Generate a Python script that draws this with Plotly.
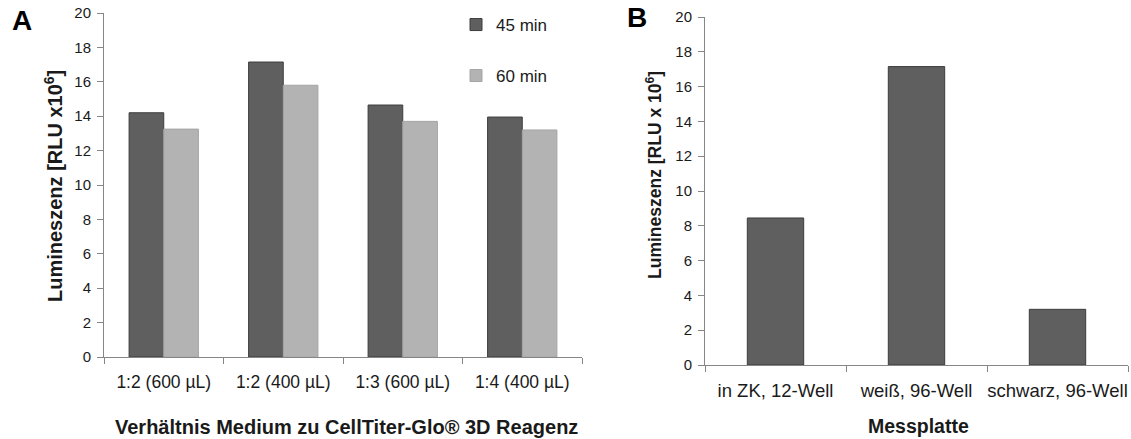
import plotly.graph_objects as go

# Panel A data
cats_a = ["1:2 (600 µL)", "1:2 (400 µL)", "1:3 (600 µL)", "1:4 (400 µL)"]
vals_45 = [14.2, 17.15, 14.65, 13.95]
vals_60 = [13.25, 15.8, 13.7, 13.2]
series_names = ["45 min", "60 min"]

# Panel B data
cats_b = ["in ZK, 12-Well", "weiß, 96-Well", "schwarz, 96-Well"]
vals_b = [8.45, 17.15, 3.2]

y_ticks = [0, 2, 4, 6, 8, 10, 12, 14, 16, 18, 20]

W, H = 1131, 439
FONT = "Liberation Sans, Arial, sans-serif"
DARK = "#5f5f5f"
LIGHT = "#b3b3b3"
AXIS = "#868686"
TXT = "#1a1a1a"

fig = go.Figure()
fig.add_trace(go.Bar(x=cats_a, y=vals_45, name=series_names[0], xaxis="x", yaxis="y",
                     marker=dict(color=DARK, line=dict(color="#3c3c3c", width=1)),
                     legend="legend"))
fig.add_trace(go.Bar(x=cats_a, y=vals_60, name=series_names[1], xaxis="x", yaxis="y",
                     marker=dict(color=LIGHT, line=dict(color="#a5a5a5", width=1)),
                     legend="legend2"))
fig.add_trace(go.Bar(x=cats_b, y=vals_b, name="B", xaxis="x2", yaxis="y2", showlegend=False,
                     width=0.4,
                     marker=dict(color=DARK, line=dict(color="#3c3c3c", width=1))))

def px_x(p):
    return p / W

def px_y(p):
    return 1 - p / H

common_y = dict(range=[0, 20], tickvals=y_ticks, showline=True, linecolor=AXIS, linewidth=1,
                ticks="outside", ticklen=6, tickcolor=AXIS, showgrid=False, zeroline=False,
                tickfont=dict(family=FONT, size=15, color=TXT), ticklabelstandoff=3,
                fixedrange=True, automargin=False)
common_x = dict(showline=True, linecolor=AXIS, linewidth=1, ticks="outside", ticklen=6,
                tickcolor=AXIS, tickson="boundaries", showgrid=False, zeroline=False,
                fixedrange=True, automargin=False, tickangle=0, ticklabelstandoff=9)

fig.update_layout(
    width=W, height=H,
    margin=dict(l=0, r=0, t=0, b=0, autoexpand=False),
    paper_bgcolor="white", plot_bgcolor="white",
    barmode="group",
    showlegend=True,
    xaxis=dict(domain=[px_x(104), px_x(582)], anchor="y",
               tickfont=dict(family=FONT, size=17.5, color=TXT), **common_x),
    yaxis=dict(domain=[px_y(357), px_y(13)], anchor="x", **common_y),
    xaxis2=dict(domain=[px_x(705), px_x(1128)], anchor="y2",
                tickfont=dict(family=FONT, size=18.5, color=TXT), **common_x),
    yaxis2=dict(domain=[px_y(365), px_y(17)], anchor="x2", **common_y),
    bargap=0.42,
    legend=dict(x=px_x(456), y=px_y(25), xanchor="left", yanchor="middle",
                font=dict(family=FONT, size=17, color=TXT), bgcolor="rgba(0,0,0,0)",
                itemwidth=30),
    legend2=dict(x=px_x(456), y=px_y(76), xanchor="left", yanchor="middle",
                 font=dict(family=FONT, size=17, color=TXT), bgcolor="rgba(0,0,0,0)",
                 itemwidth=30),
)

annotations = [
    dict(text="<b>A</b>", x=px_x(22), y=px_y(21), font=dict(family=FONT, size=28, color="black")),
    dict(text="<b>B</b>", x=px_x(637), y=px_y(18), font=dict(family=FONT, size=28, color="black")),
    dict(text="<b>Lumineszenz [RLU x10<sup>6</sup>]</b>", x=px_x(53), y=px_y(186), textangle=-90,
         font=dict(family=FONT, size=20, color=TXT)),
    dict(text="<b>Lumineszenz [RLU x 10<sup>6</sup>]</b>", x=px_x(654), y=px_y(175), textangle=-90,
         font=dict(family=FONT, size=17.5, color=TXT)),
    dict(text="<b>Verhältnis Medium zu CellTiter-Glo® 3D Reagenz</b>", x=px_x(346), y=px_y(427),
         font=dict(family=FONT, size=20, color=TXT)),
    dict(text="<b>Messplatte</b>", x=px_x(918), y=px_y(426),
         font=dict(family=FONT, size=19.5, color=TXT)),
]
for a in annotations:
    a.update(xref="paper", yref="paper", showarrow=False, xanchor="center", yanchor="middle")
fig.update_layout(annotations=annotations)

fig.write_html("out.html")
